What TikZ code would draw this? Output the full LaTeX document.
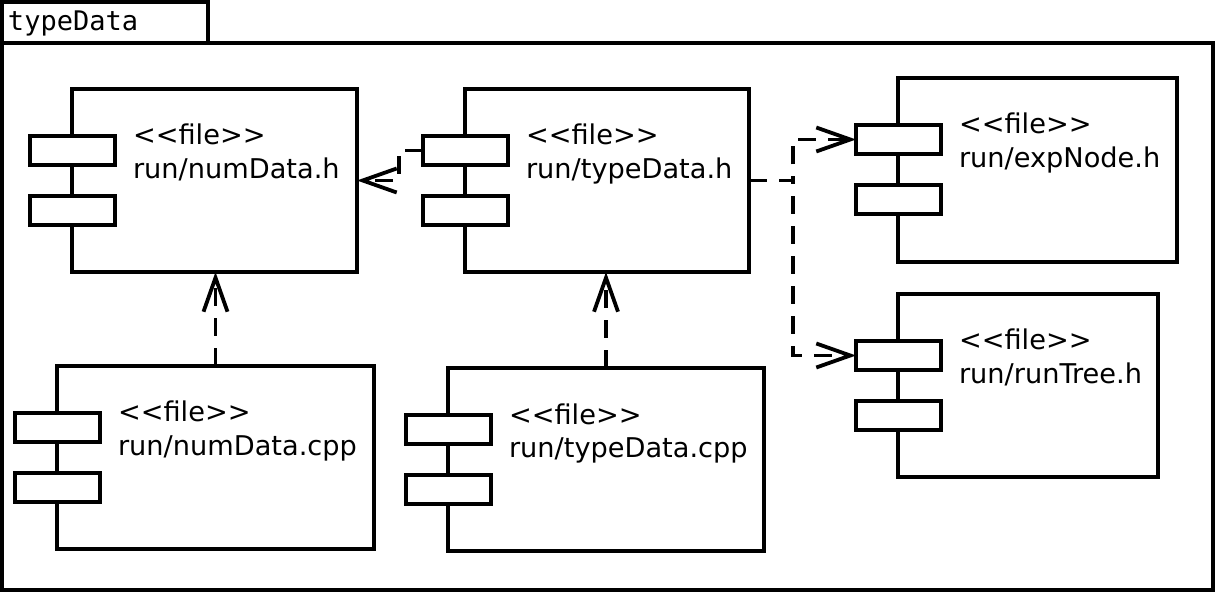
\documentclass[tikz,border=0pt]{standalone}
\usepackage{fontspec}
\newfontfamily\umlfont{DejaVu Sans}
\newfontfamily\umlmono{DejaVu Sans Mono}
\usetikzlibrary{arrows.meta}

\begin{document}
\begin{tikzpicture}[
                x=1pt, y=-1pt,
                line width=3.8pt,
                every node/.style={inner sep=0pt, outer sep=0pt},
                body/.style={draw, rectangle, anchor=north west, minimum height=183pt},
                port/.style={draw, fill=white, rectangle, minimum width=85pt, minimum height=29pt},
                filetxt/.style={anchor=base west, align=left, font=\umlfont\fontsize{27.2}{34}\selectfont},
                dep/.style={dash pattern=on 18pt off 12pt, -{Straight Barb[length=34pt, width=24pt]}}
            ]
            \useasboundingbox (0,0) rectangle (1216,593);

            % Package frame
            \node[draw, anchor=north west, minimum width=206pt, minimum height=41pt] (tab) at (2,2) {};
            \node[anchor=base west, font=\umlmono\fontsize{27}{30}\selectfont] (tabname) at (8,31) {typeData};
            \node[draw, anchor=north west, minimum width=1211pt, minimum height=547pt] (pkg) at (2,43) {};

            % Header files
            \node[body, minimum width=285pt] (numH) at (72,89) {};
            \node[port] (numH1) at ([shift={(0.5,61.5)}]numH.north west) {};
            \node[port] (numH2) at ([shift={(0.5,121.5)}]numH.north west) {};
            \node[filetxt] (numHtxt) at ([shift={(61,90)}]numH.north west) {<<file>>\\run/numData.h};

            \node[body, minimum width=284pt] (typeH) at (465,89) {};
            \node[port] (typeH1) at ([shift={(0.5,61.5)}]typeH.north west) {};
            \node[port] (typeH2) at ([shift={(0.5,121.5)}]typeH.north west) {};
            \node[filetxt] (typeHtxt) at ([shift={(61,90)}]typeH.north west) {<<file>>\\run/typeData.h};

            \node[body, minimum width=279pt, minimum height=184pt] (expH) at (898,78) {};
            \node[port] (expH1) at ([shift={(0.5,61.5)}]expH.north west) {};
            \node[port] (expH2) at ([shift={(0.5,121.5)}]expH.north west) {};
            \node[filetxt] (expHtxt) at ([shift={(61,90)}]expH.north west) {<<file>>\\run/expNode.h};

            \node[body, minimum width=260pt] (treeH) at (898,294) {};
            \node[port] (treeH1) at ([shift={(0.5,61.5)}]treeH.north west) {};
            \node[port] (treeH2) at ([shift={(0.5,121.5)}]treeH.north west) {};
            \node[filetxt] (treeHtxt) at ([shift={(61,90)}]treeH.north west) {<<file>>\\run/runTree.h};

            % Source files
            \node[body, minimum width=317pt] (numCpp) at (57,366) {};
            \node[port] (numCpp1) at ([shift={(0.5,61.5)}]numCpp.north west) {};
            \node[port] (numCpp2) at ([shift={(0.5,121.5)}]numCpp.north west) {};
            \node[filetxt] (numCpptxt) at ([shift={(61,90)}]numCpp.north west) {<<file>>\\run/numData.cpp};

            \node[body, minimum width=316pt] (typeCpp) at (448,368) {};
            \node[port] (typeCpp1) at ([shift={(0.5,61.5)}]typeCpp.north west) {};
            \node[port] (typeCpp2) at ([shift={(0.5,121.5)}]typeCpp.north west) {};
            \node[filetxt] (typeCpptxt) at ([shift={(61,90)}]typeCpp.north west) {<<file>>\\run/typeData.cpp};

            % Dependencies
            \draw[dep] (typeH1.west) -- ++(-24,0) |- (numH.east);
            \draw[dep] (typeH.east) -- ++(44,0) |- (expH1.west);
            \draw[dep] (typeH.east) -- ++(44,0) |- (treeH1.west);
            \draw[dep] (numCpp.north) -- (numCpp.north |- numH.south);
            \draw[dep] (typeCpp.north) -- (typeCpp.north |- typeH.south);

            \end{tikzpicture}
\end{document}
